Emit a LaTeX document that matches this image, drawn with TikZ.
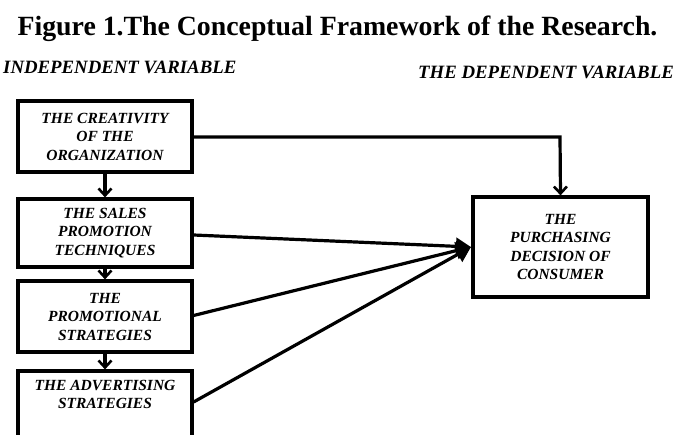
\documentclass[tikz,border=0pt]{standalone}
\usepackage{fontspec}
\setmainfont{Liberation Serif}
\usetikzlibrary{arrows.meta}
\begin{document}
\begin{tikzpicture}[x=1pt,y=1pt,
  varbox/.style={draw, line width=3.2pt, minimum width=174pt, inner sep=0pt},
  boxtext/.style={font=\fontsize{15.5}{18.5}\selectfont\bfseries\itshape, align=center},
  heading/.style={font=\fontsize{18.8}{20}\selectfont\bfseries\itshape, anchor=base west, inner sep=0pt},
  link/.style={line width=3.2pt},
  down/.style={link, -{Straight Barb[length=7pt,width=13pt,line width=2.6pt]}},
  into/.style={link, -{Triangle[length=15pt,width=17pt]}}]
\useasboundingbox (0,0) rectangle (676,434);
\clip (0,0) rectangle (676,434);

% title and headings
\node[font=\fontsize{27.8}{30}\selectfont\bfseries, anchor=base, inner sep=0pt] (title) at (337.5,398) {Figure 1.The Conceptual Framework of the Research.};
\node[heading] (indep) at (3,360) {INDEPENDENT VARIABLE};
\node[heading] (dep) at (418,355) {THE DEPENDENT VARIABLE};

% independent variables
\node[varbox, minimum height=71pt, boxtext] (creat) at (105,297.5) {THE CREATIVITY\\OF THE\\ORGANIZATION};
\node[varbox, minimum height=68pt, boxtext] (sales) at (105,201) {THE SALES\\PROMOTION\\TECHNIQUES};
\node[varbox, minimum height=71pt, boxtext] (promo) at (105,117.5) {THE\\PROMOTIONAL\\STRATEGIES};
\node[varbox, minimum height=80pt] (adv) at (105,23) {};
\node[boxtext, anchor=north] (advtext) at (adv.north) [yshift=-7pt] {THE ADVERTISING\\STRATEGIES};

% dependent variable
\node[varbox, minimum width=175pt, minimum height=100pt, boxtext] (purch) at (560.5,187) {THE\\PURCHASING\\DECISION OF\\CONSUMER};
\coordinate (hub) at (471,187);
\coordinate (corner) at (560,297);

% connectors
\draw[down] (creat.south) -- (sales.north);
\draw[down] (sales.south) -- (promo.north);
\draw[down] (promo.south) -- (adv.north);
\draw[down] (creat.east |- corner) -- (corner) -- (purch.north);
\draw[into] (sales.east) ++(0,-2) -- (hub);
\draw[into] (promo.east) ++(0,1) -- (hub);
\draw[into] (adv.east) ++(0,9) -- (hub);
\end{tikzpicture}
\end{document}
